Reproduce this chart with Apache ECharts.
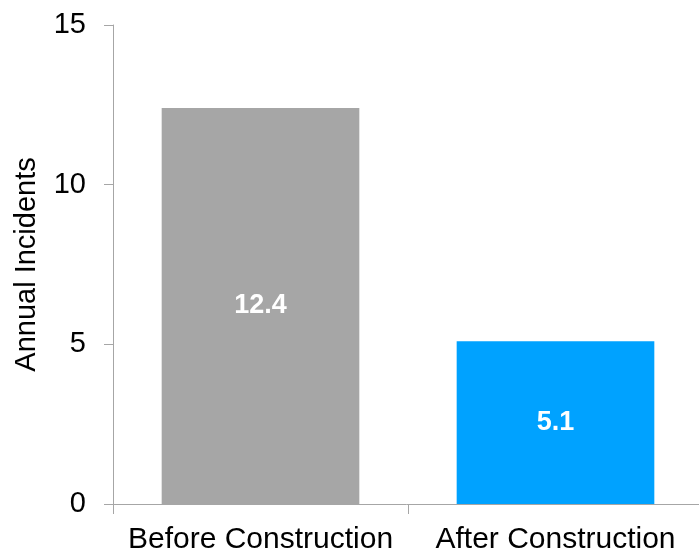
<!DOCTYPE html>
<html>
<head>
<meta charset="utf-8">
<script src="https://cdn.jsdelivr.net/npm/echarts@6/dist/echarts.min.js"></script>
<style>
html,body{margin:0;padding:0;background:#fff;}
#chart{width:699px;height:557px;}
</style>
</head>
<body>
<div id="chart"></div>
<script>
var categories = ["Before Construction", "After Construction"];
var values = [12.4, 5.1];
var barColors = ["#A6A6A6", "#00A2FF"];
var yTicks = [0, 5, 10, 15];

var chart = echarts.init(document.getElementById('chart'), null, {renderer: 'canvas'});
var font = 'Liberation Sans, Arial, sans-serif';
chart.setOption({
  animation: false,
  grid: {left: 113, top: 25, width: 590, bottom: 53, containLabel: false, outerBoundsMode: 'none'},
  xAxis: {
    type: 'category',
    data: categories,
    axisLine: {lineStyle: {color: '#A6A6A6', width: 1}},
    axisTick: {show: true, length: 10, lineStyle: {color: '#A6A6A6'}},
    axisLabel: {color: '#000', fontSize: 30, fontFamily: font, margin: 21, interval: 0}
  },
  yAxis: {
    type: 'value',
    min: yTicks[0],
    max: yTicks[yTicks.length - 1],
    interval: 5,
    name: 'Annual Incidents',
    nameLocation: 'middle',
    nameGap: 72,
    nameRotate: 90,
    nameTextStyle: {color: '#000', fontSize: 29, fontFamily: font},
    axisLine: {show: true, lineStyle: {color: '#A6A6A6', width: 1}},
    axisTick: {show: true, length: 9, lineStyle: {color: '#A6A6A6'}},
    splitLine: {show: false},
    axisLabel: {color: '#000', fontSize: 29, fontFamily: font, margin: 27}
  },
  series: [{
    type: 'bar',
    data: values.map(function (v, i) { return {value: v, itemStyle: {color: barColors[i]}}; }),
    barCategoryGap: '33%',
    label: {
      show: true,
      position: 'inside',
      color: '#fff',
      fontSize: 27,
      fontWeight: 'bold',
      fontFamily: font
    }
  }]
});
</script>
</body>
</html>
